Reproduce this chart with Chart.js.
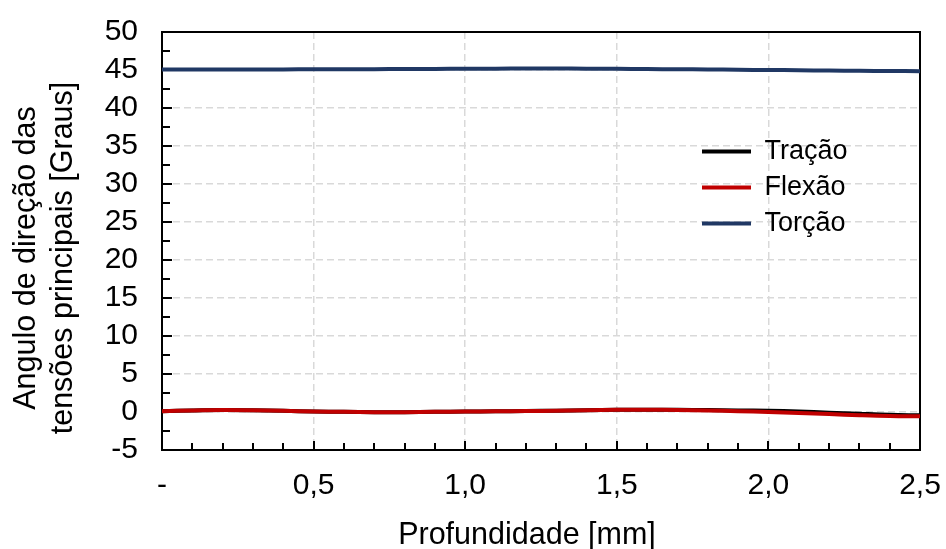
<!DOCTYPE html>
<html>
<head>
<meta charset="utf-8">
<script src="https://cdn.jsdelivr.net/npm/chart.js@4/dist/chart.umd.min.js"></script>
<style>
html,body{margin:0;padding:0;background:#ffffff;}
#wrap{width:946px;height:549px;}
</style>
</head>
<body>
<div id="wrap"><canvas id="c" width="946" height="549"></canvas></div>
<script>
// ---- data ----
const depth   = [0.0,0.1,0.2,0.3,0.4,0.5,0.6,0.7,0.8,0.9,1.0,1.1,1.2,1.3,1.4,1.5,1.6,1.7,1.8,1.9,2.0,2.1,2.2,2.3,2.4,2.5];
const tracao  = [0.10,0.20,0.25,0.22,0.15,0.08,0.02,-0.02,-0.02,0.02,0.06,0.10,0.13,0.18,0.24,0.28,0.30,0.29,0.25,0.21,0.16,0.06,-0.09,-0.24,-0.37,-0.43];
const flexao  = [0.10,0.20,0.25,0.22,0.15,0.08,0.02,-0.02,-0.02,0.02,0.06,0.10,0.12,0.18,0.24,0.28,0.30,0.27,0.20,0.10,0.00,-0.12,-0.27,-0.42,-0.53,-0.57];
const torcao  = [45.05,45.06,45.07,45.07,45.08,45.09,45.10,45.11,45.13,45.14,45.16,45.18,45.19,45.19,45.18,45.16,45.13,45.10,45.07,45.03,45.00,44.97,44.93,44.90,44.87,44.85];
const seriesNames  = ['Tração','Flexão','Torção'];
const xTickValues  = [0,0.5,1.0,1.5,2.0,2.5];
const xTickLabels  = ['-','0,5','1,0','1,5','2,0','2,5'];
const yTickLabels  = ['-5','0','5','10','15','20','25','30','35','40','45','50'];
const xTitle = 'Profundidade [mm]';
const yTitle = ['Angulo de direção das','tensões principais [Graus]'];

const FONT = "'Liberation Sans', Arial, sans-serif";

function pts(ys){ return depth.map((x,i)=>({x:x,y:ys[i]})); }
function noPad(s){ s.paddingTop = 0; s.paddingBottom = 0; s.paddingLeft = 0; s.paddingRight = 0; }

// frame + inward ticks (major & minor) drawn from the scales
const framePlugin = {
  id:'frame',
  beforeDatasetsDraw(chart){
    const {ctx, chartArea:a, scales:{x, y}} = chart;
    ctx.save();
    ctx.strokeStyle = '#000';
    ctx.lineWidth = 2;
    ctx.beginPath();
    for (let i = 0; i <= 25; i++) {
      const v = i/10;
      const px = Math.round(x.getPixelForValue(v));
      const len = (i % 5 === 0) ? 9 : 7;
      ctx.moveTo(px, a.bottom); ctx.lineTo(px, a.bottom - len);
    }
    for (let i = 0; i <= 22; i++) {
      const v = -5 + i*2.5;
      const py = Math.round(y.getPixelForValue(v));
      const len = (i % 2 === 0) ? 10 : 8;
      ctx.moveTo(a.left, py); ctx.lineTo(a.left + len, py);
    }
    ctx.stroke();
    ctx.strokeRect(a.left, a.top, a.right - a.left, a.bottom - a.top);
    ctx.restore();
  }
};

// axis titles (placed like the original)
const titlePlugin = {
  id:'axisTitles',
  afterDraw(chart){
    const ctx = chart.ctx;
    ctx.save();
    ctx.fillStyle = '#000';
    ctx.font = '30.5px ' + FONT;
    ctx.textAlign = 'center';
    ctx.textBaseline = 'alphabetic';
    ctx.fillText(xTitle, 527, 544);
    const xs = [35, 72];
    yTitle.forEach((t,i)=>{
      ctx.save();
      ctx.translate(xs[i], 258);
      ctx.rotate(-Math.PI/2);
      ctx.fillText(t, 0, 0);
      ctx.restore();
    });
    ctx.restore();
  }
};

// legend placement inside the plot
const legendPlace = {
  id:'legendPlace',
  afterLayout(chart){
    const lg = chart.legend;
    if (!lg) return;
    const w = lg.width, h = lg.height;
    lg.left = 693; lg.top = 129;
    lg.right = lg.left + w; lg.bottom = lg.top + h;
  }
};

new Chart(document.getElementById('c'), {
  type:'line',
  data:{
    datasets:[
      {label:seriesNames[0], data:pts(tracao), order:2, borderColor:'#000000', backgroundColor:'#000000', borderWidth:4, pointRadius:0, tension:0.4, fill:false},
      {label:seriesNames[1], data:pts(flexao), order:1, borderColor:'#C00000', backgroundColor:'#C00000', borderWidth:4, pointRadius:0, tension:0.4, fill:false},
      {label:seriesNames[2], data:pts(torcao), order:0, borderColor:'#203864', backgroundColor:'#203864', borderWidth:4, pointRadius:0, tension:0.4, fill:false}
    ]
  },
  options:{
    responsive:false,
    animation:false,
    devicePixelRatio:1,
    layout:{padding:{top:32,right:26,left:0,bottom:0}},
    plugins:{
      legend:{
        position:'chartArea',
        align:'start',
        labels:{
          usePointStyle:true,
          pointStyle:'line',
          pointStyleWidth:49,
          padding:9,
          color:'#000',
          font:{family:FONT,size:27},
          sort:(a,b)=>a.datasetIndex - b.datasetIndex
        }
      },
      tooltip:{enabled:false}
    },
    scales:{
      x:{
        type:'linear', min:0, max:2.5,
        afterFit(s){ s.height = 99; noPad(s); },
        afterBuildTicks(s){ s.ticks = xTickValues.map(v=>({value:v})); },
        ticks:{
          autoSkip:false, maxRotation:0, padding:18, color:'#000',
          font:{family:FONT,size:30},
          callback:(v,i)=>xTickLabels[i]
        },
        grid:{color:'#D9D9D9', lineWidth:1.5, drawTicks:false},
        border:{display:false, dash:[7,4]}
      },
      y:{
        type:'linear', min:-5, max:50,
        afterFit(s){ s.width = 162; noPad(s); },
        ticks:{
          autoSkip:false, stepSize:5, padding:24, color:'#000',
          font:{family:FONT,size:30},
          callback:(v,i)=>yTickLabels[i]
        },
        grid:{color:'#D9D9D9', lineWidth:1.5, drawTicks:false},
        border:{display:false, dash:[7,4]}
      }
    }
  },
  plugins:[framePlugin, titlePlugin, legendPlace]
});
</script>
</body>
</html>
